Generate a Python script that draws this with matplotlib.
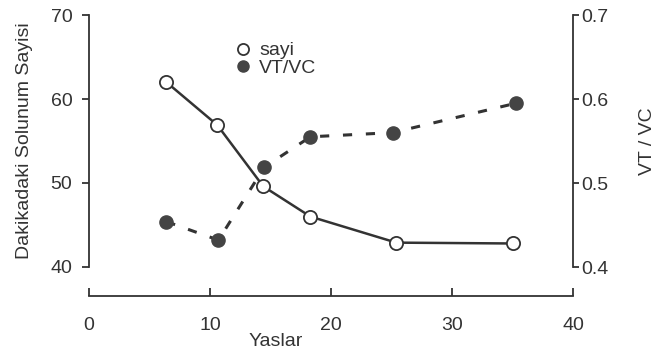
import matplotlib.pyplot as plt
from matplotlib.lines import Line2D

plt.rcParams['font.family'] = ['Liberation Sans', 'DejaVu Sans']

# yaslar (x), solunum sayisi (left axis), VT/VC (right axis)
yas_sayi = [6.4, 10.6, 14.4, 18.3, 25.4, 35.0]
sayi = [62.0, 56.9, 49.6, 46.0, 42.9, 42.8]
yas_vt = [6.4, 10.7, 14.5, 18.3, 25.1, 35.3]
vt_vc = [0.454, 0.432, 0.519, 0.555, 0.560, 0.595]

x_ticks = [0, 10, 20, 30, 40]
left_ticks = [40, 50, 60, 70]
right_ticks = [0.4, 0.5, 0.6, 0.7]

ink = '#333333'
fs = 14

fig = plt.figure(figsize=(6.56, 3.53), dpi=100)
ax = fig.add_axes([89 / 656, 86 / 353, 484 / 656, 252 / 353])
ax2 = ax.twinx()

ax.plot(yas_sayi, sayi, color=ink, lw=1.8, marker='o', ms=9.5,
        mfc='white', mec=ink, mew=1.3, zorder=3)
ax2.plot(yas_vt, vt_vc, color=ink, lw=2.2, ls=(0, (3, 4.5)), marker='o',
         ms=9.5, mfc='#444444', mec='#444444')

ax.set_xlim(0, 40)
ax.set_ylim(40, 70)
ax2.set_ylim(0.4, 0.7)
ax.set_xticks(x_ticks)
ax.set_yticks(left_ticks)
ax2.set_yticks(right_ticks)
ax2.set_yticklabels([f'{t:.1f}' for t in right_ticks])

for s in ['top', 'right']:
    ax.spines[s].set_visible(False)
for s in ['top', 'left', 'bottom']:
    ax2.spines[s].set_visible(False)
ax.spines['bottom'].set_position(('outward', 21))
for sp in [ax.spines['left'], ax.spines['bottom'], ax2.spines['right']]:
    sp.set_color(ink)
    sp.set_linewidth(1.3)

ax.tick_params(axis='x', direction='in', length=6, width=1.3, color=ink,
               labelcolor=ink, labelsize=fs, pad=15)
ax.tick_params(axis='y', direction='out', length=5, width=1.3, color=ink,
               labelcolor=ink, labelsize=fs, pad=7)
ax2.tick_params(axis='y', direction='out', length=4, width=1.3, color=ink,
                labelcolor=ink, labelsize=fs, pad=2)

fig.text(25 / 656, 1 - 141 / 353, 'Dakikadaki Solunum Sayisi', rotation=90,
         ha='center', va='center', fontsize=fs, color=ink)
fig.text(647 / 656, 1 - 141 / 353, 'VT / VC', rotation=90,
         ha='center', va='center', fontsize=fs, color=ink)
fig.text(276 / 656, 1 - 342 / 353, 'Yaslar', ha='center', va='center',
         fontsize=fs, color=ink)

handles = [
    Line2D([], [], ls='none', marker='o', ms=8, mfc='white', mec=ink, mew=1.3),
    Line2D([], [], ls='none', marker='o', ms=8, mfc='#444444', mec='#444444'),
]
ax.legend(handles, ['sayi', 'VT/VC'], loc='upper left',
          bbox_to_anchor=(226 / 656, 1 - 32 / 353),
          bbox_transform=fig.transFigure, frameon=False, fontsize=fs,
          handlelength=0.8, handletextpad=0.4, labelspacing=0.0,
          borderpad=0, labelcolor=ink)

fig.savefig('out.png', dpi=100)
